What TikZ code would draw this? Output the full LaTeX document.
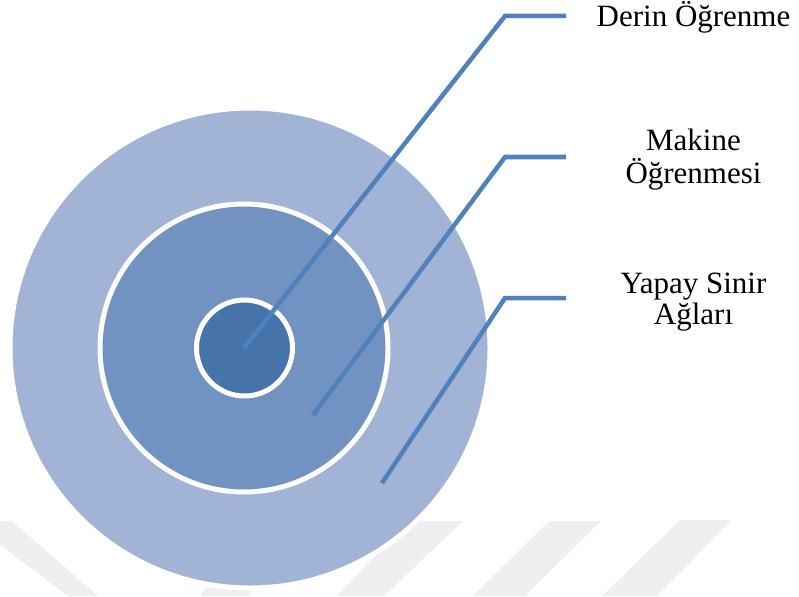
\documentclass[tikz,border=0pt]{standalone}
\usepackage{fontspec}
\setmainfont{Liberation Serif}
\definecolor{ringOuter}{HTML}{A2B4D5}
\definecolor{ringMiddle}{HTML}{7292C1}
\definecolor{ringInner}{HTML}{4673AA}
\definecolor{leader}{HTML}{4F81BD}
\definecolor{wmark}{HTML}{EFEFEF}
\tikzset{
  ring/.style={circle, draw=white, line width=5pt, inner sep=0pt},
  leaderline/.style={draw=leader, line width=4.5pt, line join=miter},
  lbl/.style={font=\fontsize{31}{35}\selectfont, inner sep=0pt, anchor=base},
  band/.style={fill=wmark, draw=none}
}
\begin{document}
\begin{tikzpicture}[x=1pt, y=-1pt]
\useasboundingbox (0,0) rectangle (799,596);

% faint background bands
\fill[band] (0,521) -- (12,521) -- (98,596) -- (68,596) -- (0,545) -- cycle;
\fill[band] (205,588) -- (250,588) -- (250,596) -- (200,596) -- cycle;
\fill[band] (410,521) -- (463,521) -- (384,596) -- (336,596) -- cycle;
\fill[band] (549,521) -- (601,521) -- (525,596) -- (473,596) -- cycle;
\fill[band] (680,520) -- (732,520) -- (657,596) -- (602,596) -- cycle;

% concentric rings
\node[ring, fill=ringOuter, minimum size=480pt] (outer) at (250,348) {};
\node[ring, fill=ringMiddle, minimum size=288pt] (middle) at (244,348) {};
\node[ring, fill=ringInner, minimum size=96pt] (inner) at (244.5,348) {};

% leader end points inside the rings
\coordinate (p1) at (244,348);
\coordinate (p2) at (313,415);
\coordinate (p3) at (382,483);
\coordinate (k1) at (505,16);
\coordinate (k2) at (505,157);
\coordinate (k3) at (505,298);
\coordinate (e1) at (566,16);
\coordinate (e2) at (566,157);
\coordinate (e3) at (566,298);

\draw[leaderline] (p1) -- (k1) -- (e1);
\draw[leaderline] (p2) -- (k2) -- (e2);
\draw[leaderline] (p3) -- (k3) -- (e3);

% labels
\node[lbl] (t1) at (693.5,27) {Derin Öğrenme};
\node[lbl] (t2a) at (693.5,150) {Makine};
\node[lbl] (t2b) at (693.5,183) {Öğrenmesi};
\node[lbl] (t3a) at (693.5,293) {Yapay Sinir};
\node[lbl] (t3b) at (693.5,324) {Ağları};
\end{tikzpicture}
\end{document}
